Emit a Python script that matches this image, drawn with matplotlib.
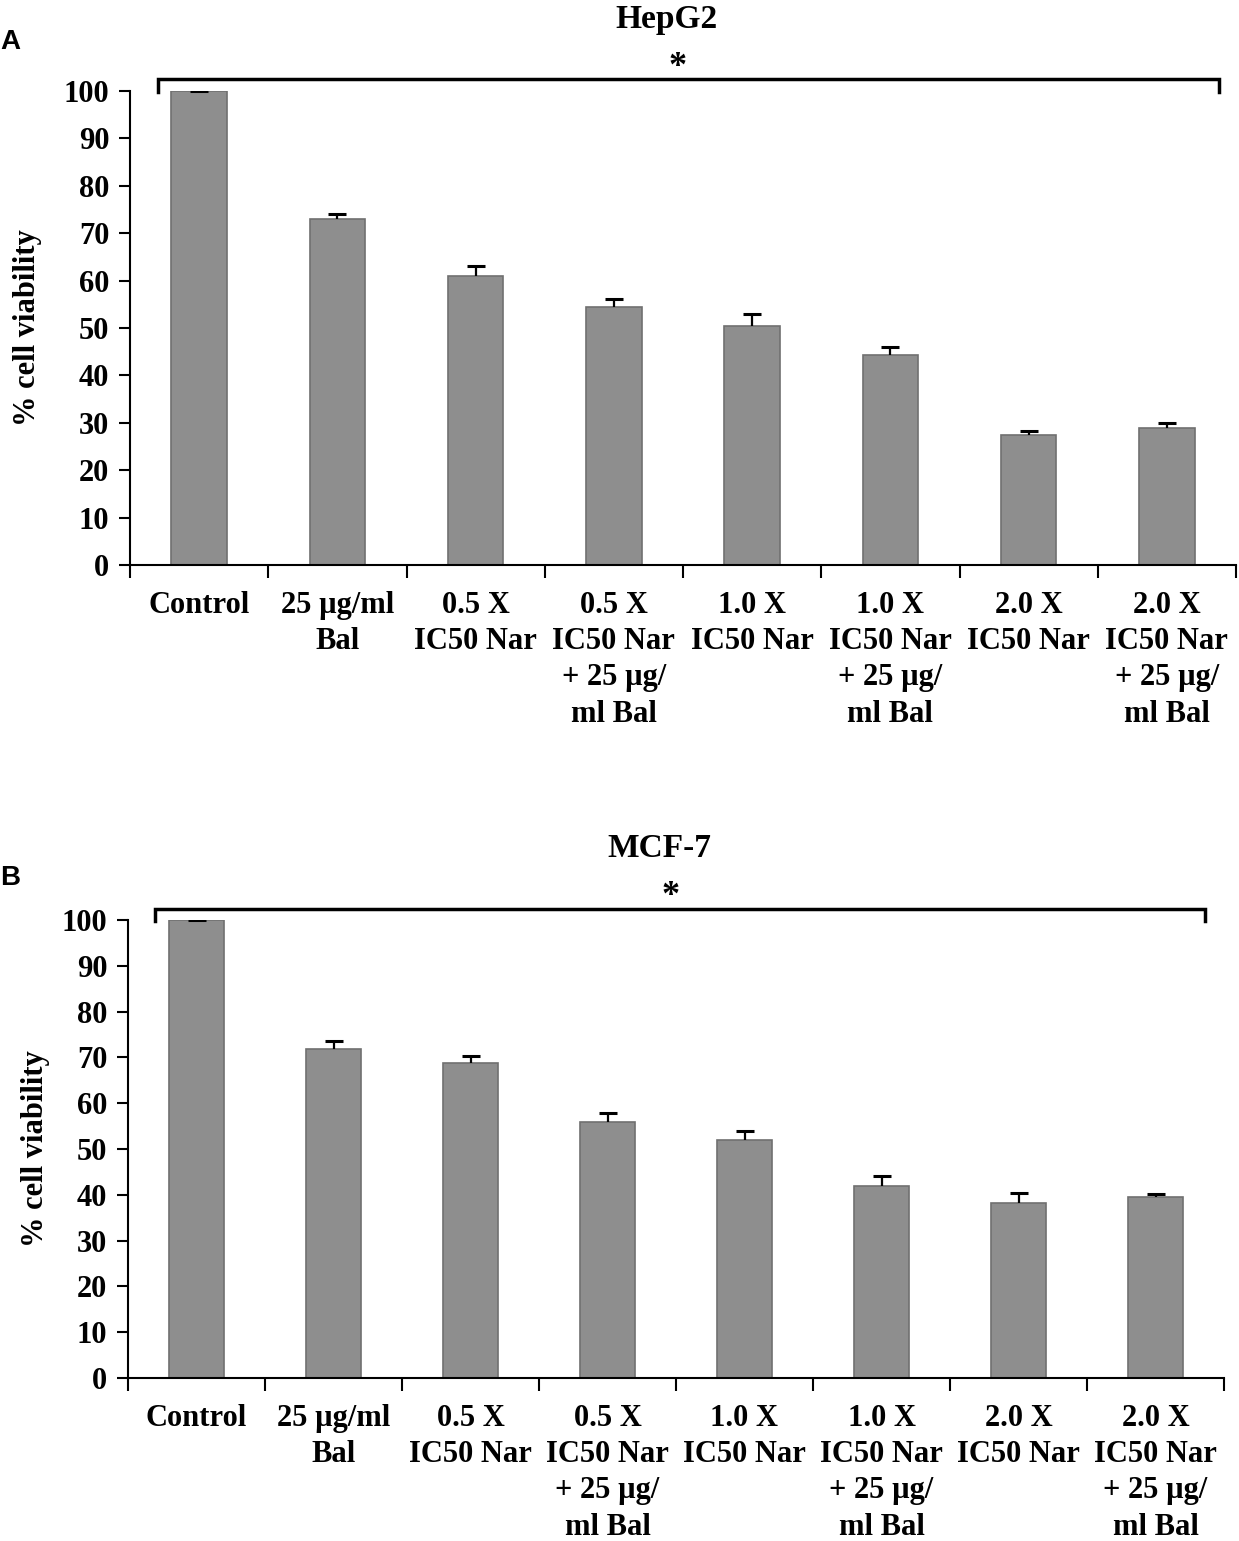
import matplotlib
matplotlib.use("Agg")
import matplotlib.pyplot as plt
import numpy as np

categories = ["Control", "25 µg/ml\nBal", "0.5 X\nIC50 Nar", "0.5 X\nIC50 Nar\n+ 25 µg/\nml Bal",
              "1.0 X\nIC50 Nar", "1.0 X\nIC50 Nar\n+ 25 µg/\nml Bal", "2.0 X\nIC50 Nar",
              "2.0 X\nIC50 Nar\n+ 25 µg/\nml Bal"]
hepg2_values = [100.0, 73.1, 61.0, 54.5, 50.4, 44.2, 27.4, 28.8]
hepg2_errors = [0.1, 0.9, 2.1, 1.7, 2.5, 1.7, 0.9, 1.1]
mcf7_values = [100.0, 71.8, 68.8, 56.0, 52.0, 42.0, 38.2, 39.5]
mcf7_errors = [0.1, 1.8, 1.4, 1.8, 2.0, 2.0, 2.1, 0.6]
yticks = list(range(0, 101, 10))

serif = ["Liberation Serif", "DejaVu Serif"]
sans = ["Liberation Sans", "DejaVu Sans"]

W, H = 1239, 1541
fig = plt.figure(figsize=(W / 100, H / 100), dpi=100)

panels = [
    dict(rect=[130/W, 1-565/H, 1106/W, (565-91)/H], values=hepg2_values,
         errors=hepg2_errors, title="HepG2", letter="A", letter_y=1-42/H,
         br_l=-0.3, br_r=7.38, ylab_right=42),
    dict(rect=[128/W, 1-1378/H, 1096/W, (1378-920)/H], values=mcf7_values,
         errors=mcf7_errors, title="MCF-7", letter="B", letter_y=1-878/H,
         br_l=-0.3, br_r=7.36, ylab_right=50),
]

px = 0.72  # points per pixel at dpi 100

for p in panels:
    ax = fig.add_axes(p["rect"])
    x = np.arange(len(categories))
    vals = np.array(p["values"])
    errs = np.array(p["errors"])
    ax.bar(x, vals, width=0.4, color="#8e8e8e", edgecolor="#707070", linewidth=1.2, zorder=2)
    ax.errorbar(x, vals, yerr=[np.zeros(len(x)), errs], fmt="none", ecolor="black",
                elinewidth=1.6, capsize=0, zorder=3)
    ax.plot(x, vals + errs, linestyle="none", marker="_", markersize=13, markeredgewidth=2.2,
            color="black", zorder=3)
    ax.set_xlim(-0.5, len(categories) - 0.5)
    ax.set_ylim(0, 100)
    ax.set_yticks(yticks)
    ax.set_yticklabels([str(t) for t in yticks], fontfamily=serif, fontweight="bold", fontsize=22)
    ax.set_xticks(x)
    ax.set_xticklabels(categories, fontfamily=serif, fontweight="bold", fontsize=22, linespacing=1.32,
                       va="top")
    ax.set_xticks(np.arange(-0.5, len(categories), 1.0), minor=True)
    ax.tick_params(axis="x", which="major", length=0, pad=19)
    ax.tick_params(axis="x", which="minor", length=9, width=1.5, direction="out")
    ax.tick_params(axis="y", which="major", length=8, width=1.5, direction="out", pad=7)
    for s in ["top", "right"]:
        ax.spines[s].set_visible(False)
    for s in ["left", "bottom"]:
        ax.spines[s].set_linewidth(1.5)
    ax.set_ylabel("% cell viability", fontfamily=serif, fontweight="bold", fontsize=22)
    ax.yaxis.set_label_coords((p["ylab_right"] / W - p["rect"][0]) / p["rect"][2], 0.5)
    # significance bracket
    yb = 102.5
    ax.plot([p["br_l"], p["br_l"], p["br_r"], p["br_r"]], [99.8, yb, yb, 99.8], color="black",
            linewidth=2.5, clip_on=False, solid_joinstyle="miter")
    ax.annotate("*", xy=(3.46, 1.0), xycoords=ax.get_xaxis_transform(),
                xytext=(0, 15 * px), textcoords="offset points", ha="center", va="baseline",
                fontfamily=serif, fontweight="bold", fontsize=26, annotation_clip=False)
    ax.annotate(p["title"], xy=(3.38, 1.0), xycoords=ax.get_xaxis_transform(),
                xytext=(0, 63 * px), textcoords="offset points", ha="center", va="baseline",
                fontfamily=serif, fontweight="bold", fontsize=24, annotation_clip=False)
    fig.text(0.0, p["letter_y"], p["letter"], ha="left", va="center", fontfamily=sans,
             fontweight="bold", fontsize=20)

fig.savefig("out.png", dpi=100)
